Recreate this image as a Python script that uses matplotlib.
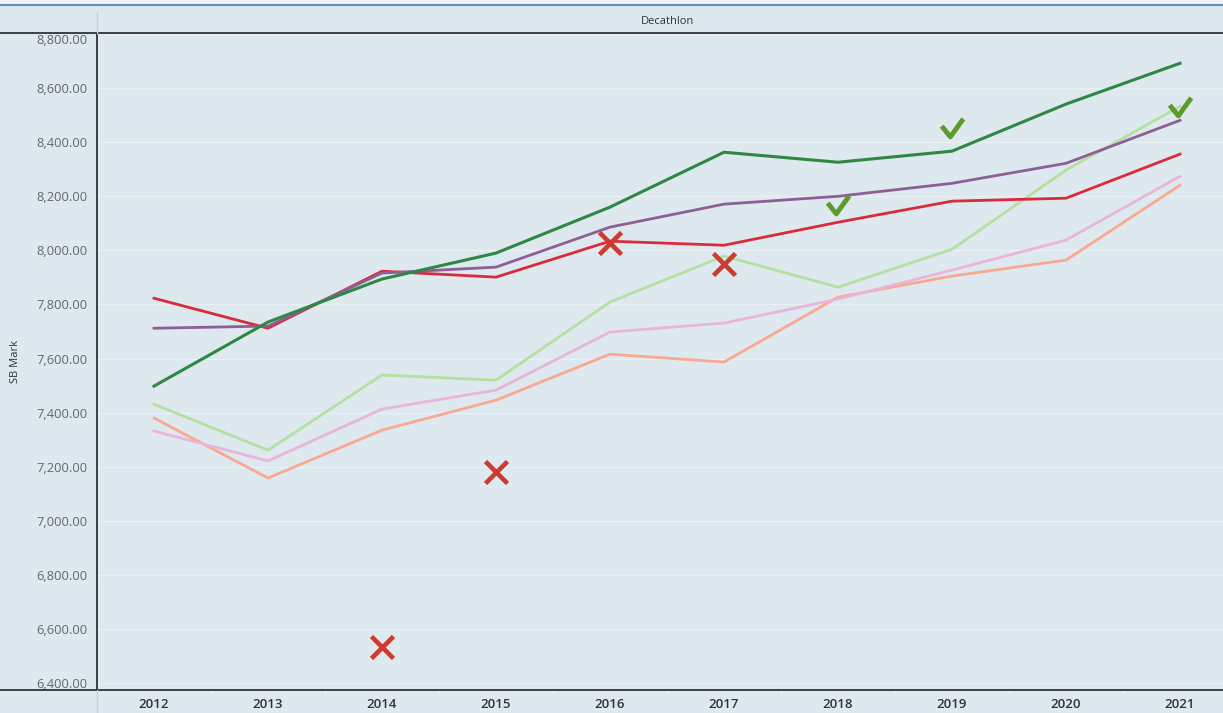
import matplotlib
matplotlib.use("Agg")
import matplotlib.pyplot as plt
from matplotlib.path import Path
from matplotlib.lines import Line2D

plt.rcParams['font.family'] = ['Open Sans', 'DejaVu Sans']

years = [2012, 2013, 2014, 2015, 2016, 2017, 2018, 2019, 2020, 2021]

# one line per ranking position
dark_green = [7498, 7735, 7894, 7990, 8160, 8363, 8326, 8367, 8541, 8692]
purple = [7712, 7720, 7916, 7938, 8086, 8171, 8200, 8248, 8322, 8481]
red = [7823, 7712, 7923, 7901, 8034, 8019, 8104, 8182, 8193, 8356]
light_green = [7431, 7261, 7539, 7520, 7809, 7979, 7864, 8004, 8297, 8533]
pink = [7332, 7221, 7413, 7483, 7698, 7731, 7820, 7927, 8038, 8274]
salmon = [7380, 7158, 7335, 7446, 7616, 7587, 7827, 7905, 7964, 8241]

# athlete marks: misses and hits
miss_years = [2014, 2015, 2016, 2017]
miss_marks = [6533, 7180, 8027, 7949]
hit_years = [2018, 2019, 2021]
hit_marks = [8171, 8456, 8533]

yticks = [6400, 6600, 6800, 7000, 7200, 7400, 7600, 7800, 8000, 8200, 8400, 8600, 8800]

bg = '#dde9ef'
W, H = 1223, 713
fig = plt.figure(figsize=(W / 100, H / 100), dpi=100, facecolor=bg)

left, right, top, bottom = 97, 1237, 33, 690
ax = fig.add_axes([left / W, 1 - bottom / H, (right - left) / W, (bottom - top) / H])
ax.set_facecolor(bg)

ax.plot(years, salmon, color='#f9a98f', lw=2.0, zorder=3)
ax.plot(years, pink, color='#e9b5d8', lw=2.0, zorder=3)
ax.plot(years, light_green, color='#b4e0a0', lw=2.0, zorder=3)
ax.plot(years, red, color='#d92b3c', lw=2.0, zorder=4)
ax.plot(years, purple, color='#8d5f95', lw=2.0, zorder=4)
ax.plot(years, dark_green, color='#2f8744', lw=2.2, zorder=4)

check = Path([(-1.0, 0.13), (-0.2, -0.87), (1.0, 0.8)],
             [Path.MOVETO, Path.LINETO, Path.LINETO])
ax.plot(miss_years, miss_marks, ls='none', marker='x', ms=15.5, mew=3.3,
        color='#cc3b2e', zorder=6)
ax.plot(hit_years, hit_marks, ls='none', marker=check, ms=15.5, mew=3.5,
        mfc='none', color='#5a9b2c', zorder=6)

ax.set_xlim(2011.5, 2021.5)
ax.set_ylim(6374, 8804)
ax.set_yticks(yticks)
ax.set_yticklabels([f'{v:,.2f}' for v in yticks])
ax.set_xticks(years)
ax.set_xticklabels([str(y) for y in years])
ax.set_xticks([y + 0.5 for y in years[:-1]], minor=True)
ax.tick_params(axis='y', length=0, pad=7, labelsize=9.3, labelcolor='#666666')
ax.tick_params(axis='x', which='major', length=0, pad=6, labelsize=9.5, labelcolor='#333333')
ax.tick_params(axis='x', which='minor', length=3, width=1, color='#f0f5f8', direction='out')
for lbl in ax.get_xticklabels():
    lbl.set_fontweight('semibold')
ax.get_yticklabels()[-1].set_verticalalignment('top')

ax.grid(axis='y', color='#e9f1f5', lw=1.0, zorder=1)
ax.grid(axis='x', visible=False)
for s in ['top', 'right', 'bottom']:
    ax.spines[s].set_visible(False)
ax.spines['left'].set_color('#222222')
ax.spines['left'].set_linewidth(1.2)

ax.set_ylabel('SB Mark', fontsize=8, color='#333333')
ax.yaxis.set_label_coords(-76 / (right - left), 0.5)
ax.text(0.5, 1 + 11 / (bottom - top), 'Decathlon', transform=ax.transAxes,
        ha='center', va='center', fontsize=8, color='#333333')

# frame lines spanning the full width, header divider and top blue bar
def fx(px):
    return px / W

def fy(py):
    return 1 - py / H

fig.add_artist(Line2D([0, 1], [fy(33), fy(33)], color='#222222', lw=1.2))
fig.add_artist(Line2D([0, 1], [fy(690), fy(690)], color='#222222', lw=1.2))
fig.add_artist(Line2D([fx(97), fx(97)], [fy(12), fy(33)], color='#c8cfd3', lw=1))
fig.add_artist(Line2D([fx(97), fx(97)], [fy(690), fy(713)], color='#c8cfd3', lw=1))
fig.add_artist(plt.Rectangle((0, fy(4)), 1, 4 / H, color='#eef3f8', lw=0))
fig.add_artist(Line2D([0, 1], [fy(5), fy(5)], color='#6689bd', lw=1.5))

fig.savefig('out.png', dpi=100, facecolor=bg)
